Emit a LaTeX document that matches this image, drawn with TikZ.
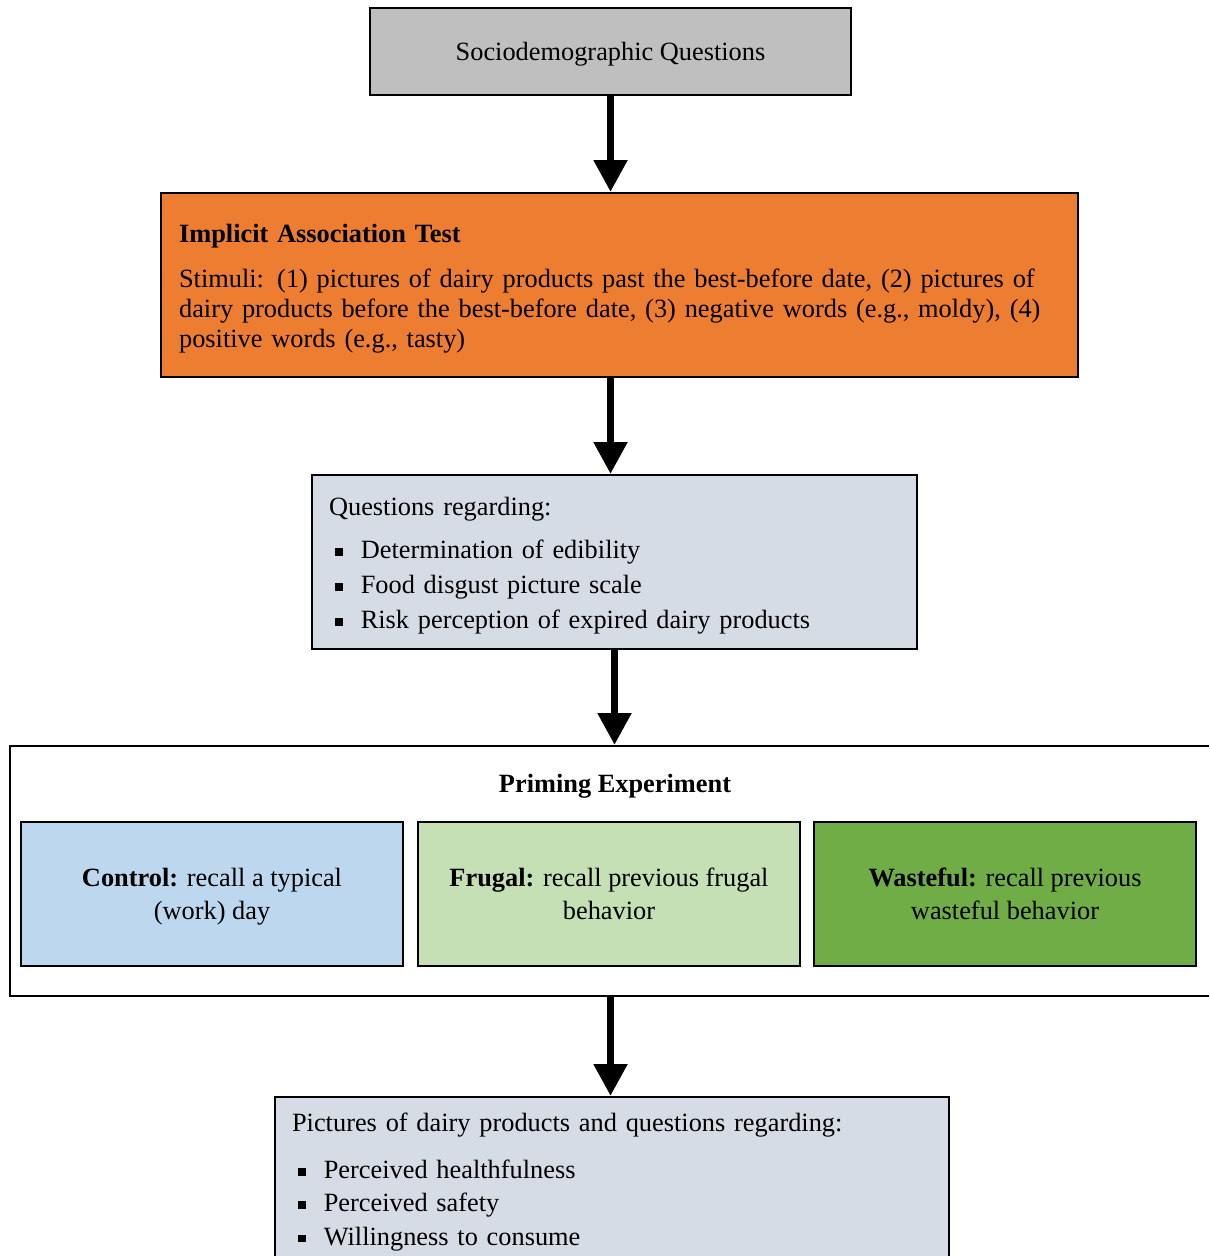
\documentclass[tikz,border=0pt]{standalone}
\usepackage{fontspec}
\setmainfont{Liberation Serif}
\usepackage{xcolor}
\usetikzlibrary{arrows.meta, positioning, calc}

\definecolor{sociogray}{HTML}{BFBFBF}
\definecolor{iatorange}{HTML}{ED7D31}
\definecolor{questblue}{HTML}{D6DCE5}
\definecolor{ctrlblue}{HTML}{BDD7EE}
\definecolor{frugalgreen}{HTML}{C5E0B4}
\definecolor{wastegreen}{HTML}{70AD47}

\newcommand{\sqbullet}{\hspace*{0.12cm}\rule[1.7pt]{4.4pt}{4.4pt}\hspace{0.36cm}}
\newcommand{\topstrut}{\rule{0pt}{14.5pt}}

\begin{document}
\begin{tikzpicture}[
    x=0.02cm, y=-0.02cm,
    every node/.style={font=\fontsize{15pt}{17pt}\selectfont},
    box/.style={rectangle, draw=black, line width=1.1pt, inner sep=0pt},
    choice/.style={box, text depth=0pt, minimum width=7.64cm, minimum height=2.88cm, align=center, font=\fontsize{15pt}{18.8pt}\selectfont},
    flow/.style={line width=4.5pt, -{Triangle[width=0.64cm, length=0.64cm]}}
]
\useasboundingbox (0,0) rectangle (1209,1256);
\clip (0,0) rectangle (1209,1256);

% Sociodemographic questions
\node[box, text depth=0pt, fill=sociogray, minimum width=9.62cm, minimum height=1.74cm] (socio) at (610.5,51.5) {Sociodemographic Questions};

% Implicit association test
\node[box, fill=iatorange, minimum height=3.68cm, text width=17.62cm, inner xsep=0.36cm, align=left] (iat) at (619.5,285)
  {\topstrut\textbf{Implicit Association Test}\\[0.3cm]
   Stimuli: (1) pictures of dairy products past the best-before date, (2) pictures of\\
   dairy products before the best-before date, (3) negative words (e.g., moldy), (4)\\
   positive words (e.g., tasty)};

% Questions after the IAT
\node[box, fill=questblue, minimum height=3.48cm, text width=11.42cm, inner xsep=0.34cm, align=left] (quest) at (614.5,562)
  {\topstrut Questions regarding:\\[0.28cm]
   \sqbullet Determination of edibility\\[0.1cm]
   \sqbullet Food disgust picture scale\\[0.1cm]
   \sqbullet Risk perception of expired dairy products};

% Priming experiment
\node[box, fill=white, minimum width=24.1cm, minimum height=5.0cm] (prime) at (612.5,871) {};
\node[font=\fontsize{15pt}{17pt}\selectfont\bfseries] (primetitle) at (615,786) {Priming Experiment};

\node[choice, fill=ctrlblue] (control) at (212,894) {\textbf{Control:} recall a typical\\(work) day};
\node[choice, fill=frugalgreen] (frugal) at (609,894) {\textbf{Frugal:} recall previous frugal\\behavior};
\node[choice, fill=wastegreen] (wasteful) at (1005,894) {\textbf{Wasteful:} recall previous\\wasteful behavior};

% Final questions
\node[box, fill=questblue, minimum height=3.4cm, text width=12.8cm, inner xsep=0.34cm, align=left] (final) at (612,1182)
  {Pictures of dairy products and questions regarding:\\[0.34cm]
   \sqbullet Perceived healthfulness\\[0.07cm]
   \sqbullet Perceived safety\\[0.07cm]
   \sqbullet Willingness to consume};

% Arrows
\draw[flow] (socio.south) -- (socio.south |- iat.north);
\draw[flow] (socio.south |- iat.south) -- (socio.south |- quest.north);
\draw[flow] (quest.south) -- (quest.south |- prime.north);
\draw[flow] (socio.south |- prime.south) -- (socio.south |- final.north);

\end{tikzpicture}
\end{document}
